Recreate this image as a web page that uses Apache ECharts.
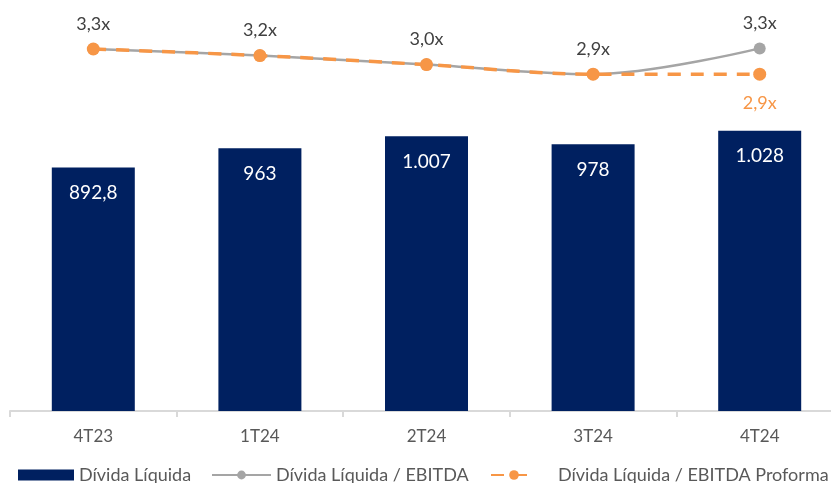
<!DOCTYPE html>
<html>
<head>
<meta charset="utf-8">
<script src="https://cdn.jsdelivr.net/npm/echarts@6/dist/echarts.min.js"></script>
<style>
  html, body { margin: 0; padding: 0; background: #fff; }
  #chart { width: 831px; height: 483px; }
</style>
</head>
<body>
<div id="chart"></div>
<script>
// dados do gráfico
var categorias = ["4T23", "1T24", "2T24", "3T24", "4T24"];
var dividaLiquida = [892.8, 963, 1007, 978, 1028];
var alavancagem = [3.30, 3.19, 3.04, 2.88, 3.31];
var alavancagemProforma = [3.30, 3.19, 3.04, 2.88, 2.88];

var fonte = "Lato";

// formato brasileiro: 1.007 / 892,8
function fmtBR(v) {
  if (Math.round(v) === v) {
    return String(v).replace(/\B(?=(\d{3})+(?!\d))/g, ".");
  }
  return String(v).replace(".", ",");
}
function fmtX(v) {
  return v.toFixed(1).replace(".", ",") + "x";
}

var myChart = echarts.init(document.getElementById("chart"));
var option = {
  animation: false,
  grid: [
    { left: 10, width: 833, top: 111, bottom: 72, outerBoundsMode: "none" }, // barras
    { left: 10, width: 833, top: 43, height: 36, outerBoundsMode: "none" }   // linhas
  ],
  xAxis: [
    {
      type: "category",
      gridIndex: 0,
      data: categorias,
      axisLine: { lineStyle: { color: "#d9d9d9", width: 2 } },
      axisTick: { show: true, length: 6, lineStyle: { color: "#d9d9d9", width: 2 } },
      axisLabel: { color: "#595959", fontSize: 17, fontFamily: fonte, margin: 17 }
    },
    {
      type: "category",
      gridIndex: 1,
      data: categorias,
      show: false
    }
  ],
  yAxis: [
    { type: "value", gridIndex: 0, min: 0, max: 1100, show: false, splitLine: { show: false } },
    { type: "value", gridIndex: 1, min: 2.8, max: 3.4, show: false, splitLine: { show: false } }
  ],
  legend: [
    {
      data: [{ name: "Dívida Líquida", icon: "rect" }],
      left: 18, bottom: -1, padding: 0,
      itemWidth: 56, itemHeight: 11,
      textStyle: { color: "#595959", fontSize: 18, fontFamily: fonte }
    },
    {
      data: ["Dívida Líquida / EBITDA"],
      left: 211, bottom: -1, padding: 0,
      itemWidth: 59, itemHeight: 11,
      textStyle: { color: "#595959", fontSize: 18, fontFamily: fonte }
    },
    {
      data: ["Dívida Líquida / EBITDA Proforma"],
      left: 490, bottom: -1, padding: 0,
      itemWidth: 46, itemHeight: 12,
      textStyle: { color: "#595959", fontSize: 18, fontFamily: fonte, padding: [0, 0, 0, 16] }
    }
  ],
  series: [
    {
      name: "Dívida Líquida",
      type: "bar",
      xAxisIndex: 0,
      yAxisIndex: 0,
      data: dividaLiquida,
      barWidth: 83,
      itemStyle: { color: "#002060" },
      label: {
        show: true,
        position: "insideTop",
        distance: 16,
        color: "#ffffff",
        fontSize: 19,
        fontFamily: fonte,
        formatter: function (p) { return fmtBR(p.value); }
      }
    },
    {
      name: "Dívida Líquida / EBITDA",
      type: "line",
      xAxisIndex: 1,
      yAxisIndex: 1,
      data: alavancagem,
      smooth: 0.35,
      symbol: "circle",
      symbolSize: 12,
      itemStyle: { color: "#a5a5a5" },
      lineStyle: { color: "#a5a5a5", width: 2.5 },
      label: {
        show: true,
        position: "top",
        distance: 10,
        color: "#404040",
        fontSize: 18,
        fontFamily: fonte,
        formatter: function (p) { return fmtX(p.value); }
      }
    },
    {
      name: "Dívida Líquida / EBITDA Proforma",
      type: "line",
      xAxisIndex: 1,
      yAxisIndex: 1,
      data: alavancagemProforma,
      smooth: 0.35,
      symbol: "circle",
      symbolSize: 13,
      itemStyle: { color: "#f79646" },
      lineStyle: { color: "#f79646", width: 3.5, type: [13, 10] },
      label: {
        show: true,
        position: "bottom",
        distance: 13,
        color: "#f79646",
        fontSize: 18,
        fontFamily: fonte,
        formatter: function (p) {
          return p.dataIndex === categorias.length - 1 ? fmtX(p.value) : "";
        }
      }
    }
  ]
};
myChart.setOption(option);
window.onresize = myChart.resize;
</script>
</body>
</html>
